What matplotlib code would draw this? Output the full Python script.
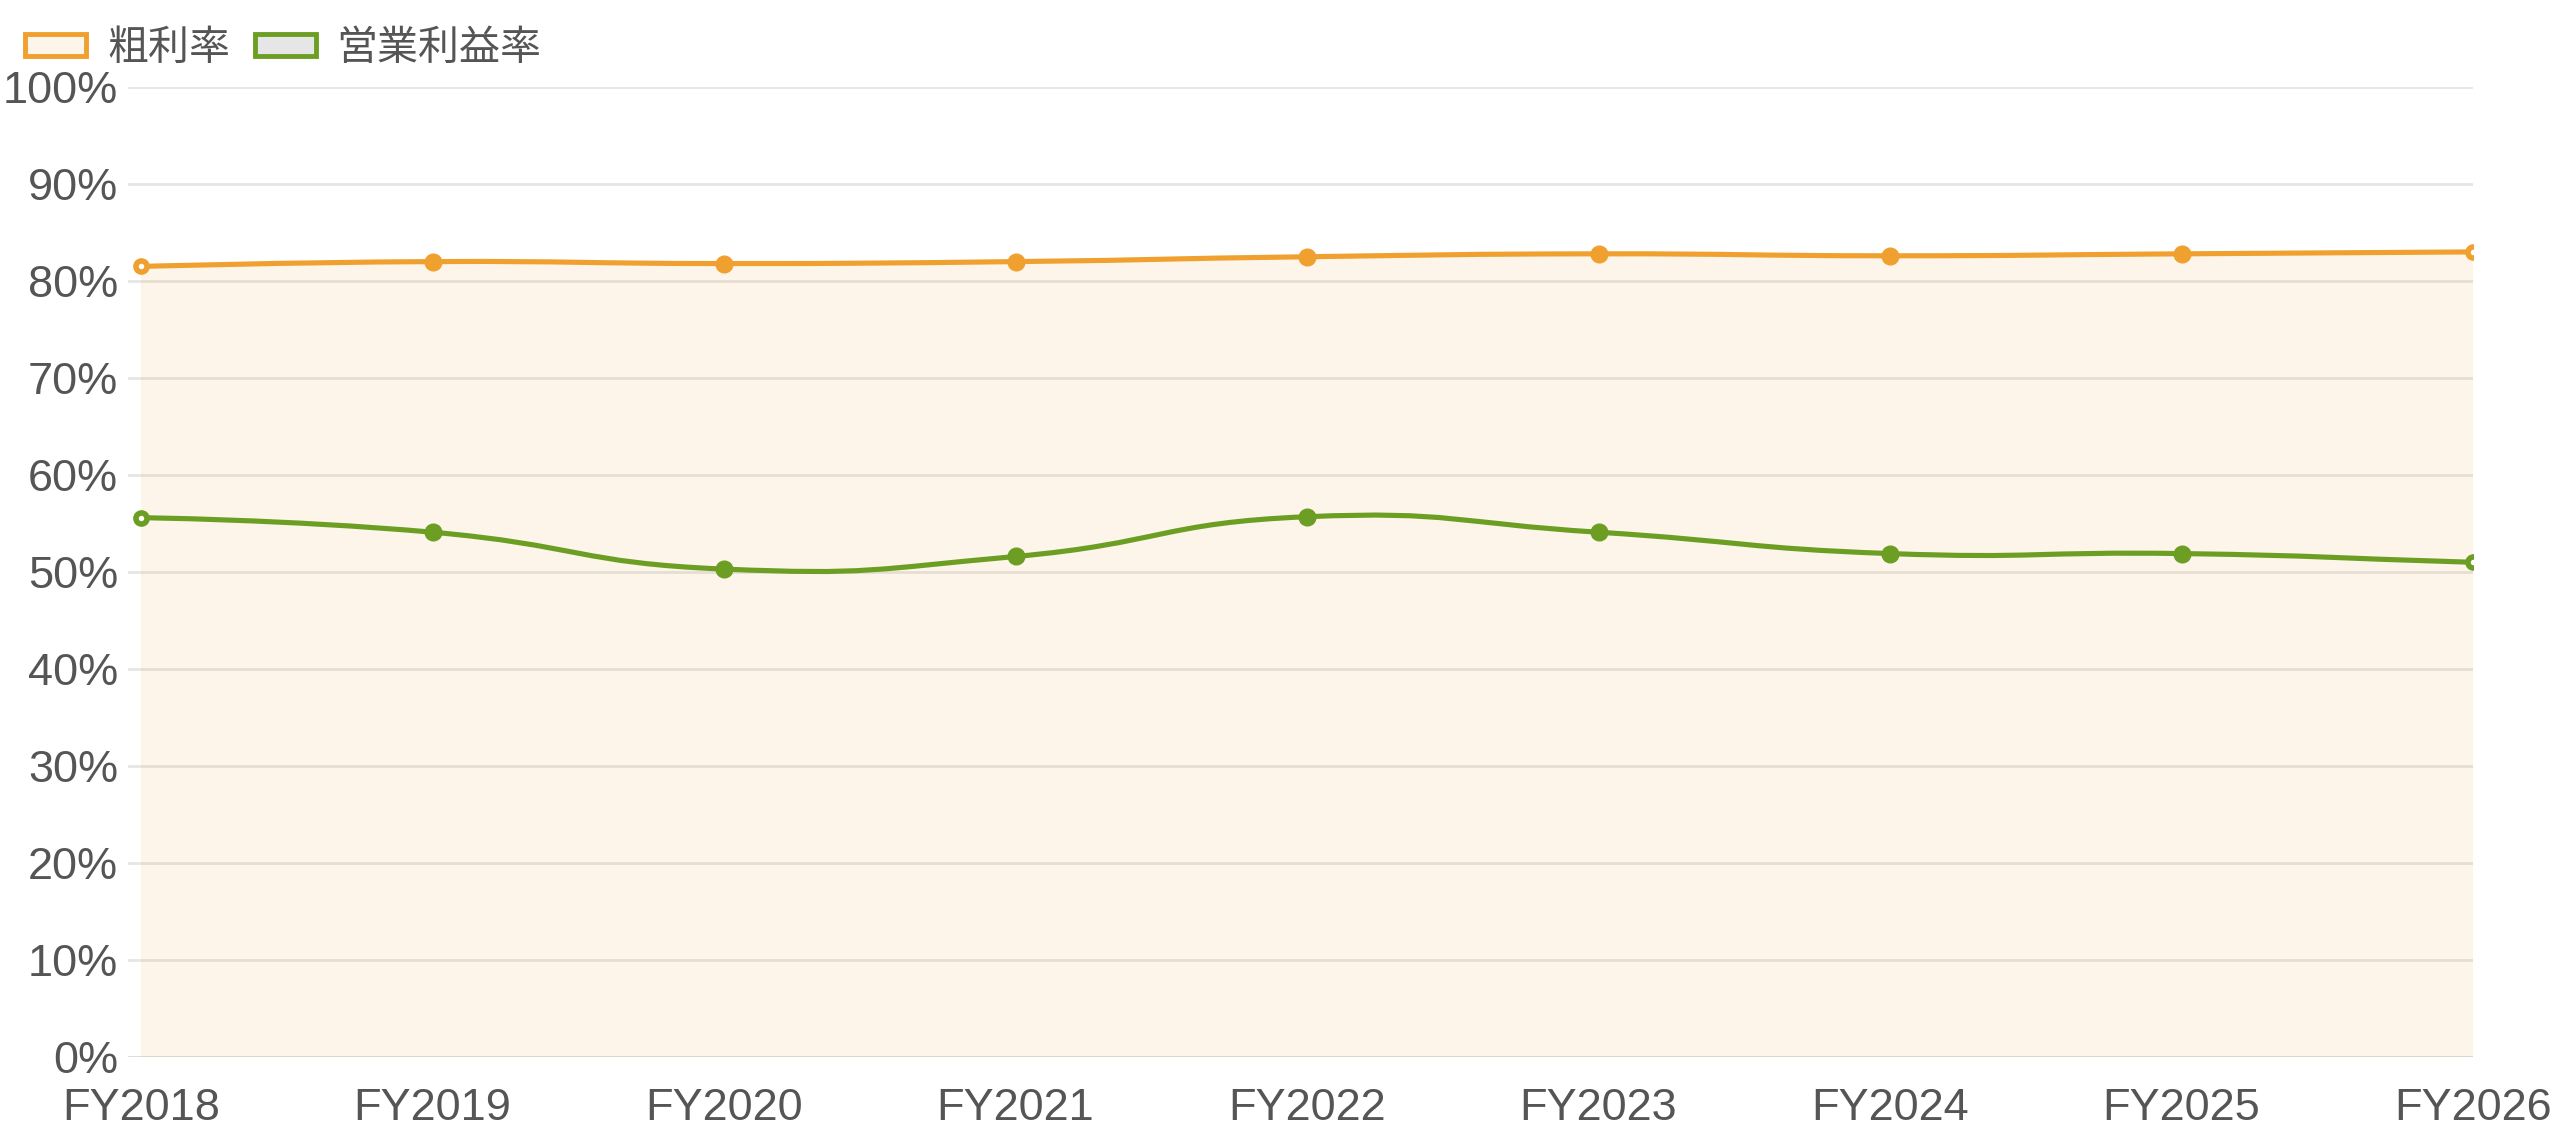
import numpy as np
import matplotlib
matplotlib.use('Agg')
import matplotlib.pyplot as plt
from matplotlib.path import Path
from matplotlib.patches import PathPatch, Patch

plt.rcParams['font.family'] = ['Liberation Sans', 'Noto Sans CJK JP', 'DejaVu Sans']

# データ
years = ['FY2018', 'FY2019', 'FY2020', 'FY2021', 'FY2022', 'FY2023', 'FY2024', 'FY2025', 'FY2026']
gross_margin = [81.5, 82.0, 81.8, 82.0, 82.5, 82.8, 82.6, 82.8, 83.0]      # 粗利率
op_margin = [55.6, 54.1, 50.3, 51.6, 55.7, 54.1, 51.9, 51.9, 51.0]         # 営業利益率
y_ticks = [0, 10, 20, 30, 40, 50, 60, 70, 80, 90, 100]

ORANGE = '#F0A02E'
GREEN = '#6B9E23'
TEXT = '#555555'

fig = plt.figure(figsize=(25.6, 11.38), dpi=100)
ax = fig.add_axes([128 / 2560, 81 / 1138, (2473 - 128) / 2560, 970 / 1138])

x = np.arange(len(years))
ax.set_xlim(-13 / 291.5, len(years) - 1)
ax.set_ylim(0, 100)


def smooth_verts(xs, ys, smooth=0.5):
    """echarts風のベジェ曲線 (表示座標で計算してデータ座標に戻す)"""
    pts = ax.transData.transform(np.column_stack([xs, ys]))
    n = len(pts)
    verts = [pts[0]]
    codes = [Path.MOVETO]
    cp0 = pts[0]
    for i in range(1, n):
        p = pts[i]
        prev = pts[i - 1]
        nxt = pts[i + 1] if i + 1 < n else p
        v = nxt - prev
        d0 = np.hypot(*(p - prev))
        d1 = np.hypot(*(nxt - p))
        r = d1 / (d0 + d1) if d0 + d1 > 0 else 0
        cp1 = p - v * smooth * (1 - r)
        verts += [cp0, cp1, p]
        codes += [Path.CURVE4] * 3
        cp0 = p + v * smooth * r
    verts = ax.transData.inverted().transform(np.array(verts))
    return verts, codes


# グリッド
for t in y_ticks:
    ax.axhline(t, color='#D9D9D9' if t == 0 else '#E6E6E6', lw=2, zorder=1)

# 粗利率の面
gv, gc = smooth_verts(x, gross_margin)
area = np.vstack([gv, [[gv[-1][0], 0], [gv[0][0], 0], gv[0]]])
area_codes = gc + [Path.LINETO, Path.LINETO, Path.CLOSEPOLY]
ax.add_patch(PathPatch(Path(area, area_codes), facecolor=ORANGE, alpha=0.1,
                       edgecolor='none', zorder=2))

for vals, col in [(gross_margin, ORANGE), (op_margin, GREEN)]:
    v, c = smooth_verts(x, vals)
    ax.add_patch(PathPatch(Path(v, c), facecolor='none', edgecolor=col, lw=3.7,
                           capstyle='round', joinstyle='round', zorder=3))
    ax.plot(x[1:-1], vals[1:-1], 'o', color=col, ms=12, zorder=4)
    ax.plot([x[0], x[-1]], [vals[0], vals[-1]], 'o', mfc='white', mec=col,
            ms=8, mew=4, zorder=4)

ax.set_xticks(x)
ax.set_xticklabels(years)
ax.set_yticks(y_ticks)
ax.set_yticklabels([f'{t}%' for t in y_ticks])
ax.tick_params(length=0, labelsize=32.5, colors=TEXT)
ax.tick_params(axis='y', pad=7)
ax.tick_params(axis='x', pad=22)
for s in ax.spines.values():
    s.set_visible(False)

handles = [Patch(facecolor='#FDF4EA', edgecolor=ORANGE, lw=3.5, label='粗利率'),
           Patch(facecolor='#E6E6E6', edgecolor=GREEN, lw=3.5, label='営業利益率')]
fig.legend(handles=handles, loc='center left', bbox_to_anchor=(25 / 2560, 1 - 49 / 1138),
           ncol=2, frameon=False, fontsize=29.5, labelcolor=TEXT, borderpad=0,
           borderaxespad=0, handlelength=1.5, handleheight=0.45,
           handletextpad=0.5, columnspacing=0.6)

fig.savefig('out.png', dpi=100)
